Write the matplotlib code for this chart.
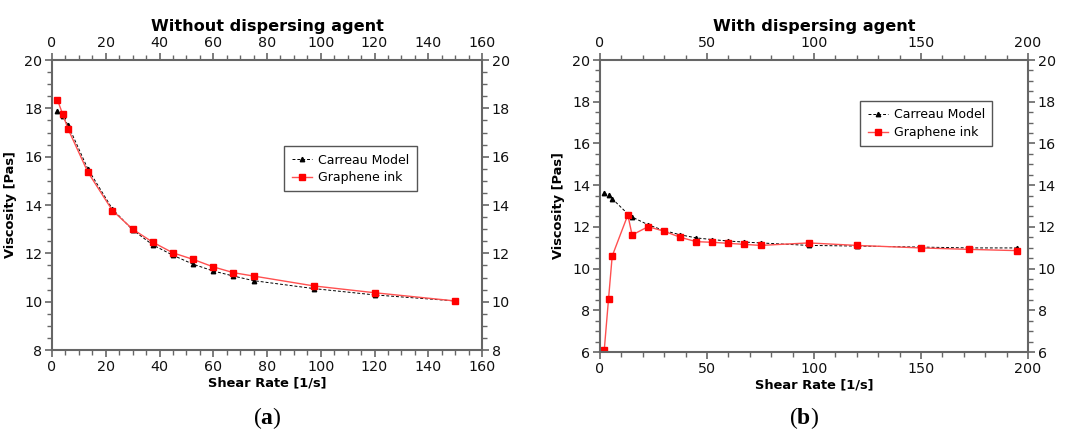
import matplotlib
matplotlib.use("Agg")
import matplotlib.pyplot as plt
from matplotlib.ticker import MultipleLocator

# ---- data ----
x_a = [2, 4, 6, 13.3, 22.5, 30, 37.5, 45, 52.5, 60, 67.5, 75, 97.5, 120, 150]
carreau_a = [17.9, 17.67, 17.3, 15.5, 13.83, 12.97, 12.35, 11.92, 11.55, 11.27, 11.06, 10.87, 10.54, 10.28, 10.03]
ink_a = [18.36, 17.75, 17.14, 15.37, 13.77, 13.0, 12.46, 12.02, 11.75, 11.44, 11.2, 11.06, 10.65, 10.37, 10.03]

x_b = [2, 4, 5.7, 13, 15, 22.5, 30, 37.5, 45, 52.5, 60, 67.5, 75, 97.5, 120, 150, 172.5, 195]
carreau_b = [13.62, 13.51, 13.35, 12.62, 12.47, 12.1, 11.82, 11.62, 11.47, 11.39, 11.32, 11.27, 11.23, 11.11, 11.08, 11.03, 10.99, 10.99]
ink_b = [6.11, 8.56, 10.6, 12.57, 11.61, 12.01, 11.79, 11.5, 11.29, 11.26, 11.21, 11.16, 11.11, 11.23, 11.11, 10.99, 10.92, 10.86]

titles = ["Without dispersing agent", "With dispersing agent"]
panel_labels = ["a", "b"]
xlabel = "Shear Rate [1/s]"
ylabel = "Viscosity [Pas]"
legend_labels = ["Carreau Model", "Graphene ink"]

plt.rcParams['font.family'] = ['DejaVu Sans']
plt.rcParams['mathtext.fontset'] = 'custom'
plt.rcParams['mathtext.rm'] = 'Liberation Serif'
plt.rcParams['mathtext.bf'] = 'Liberation Serif:bold'

fig = plt.figure(figsize=(10.73, 4.34), dpi=100)
ax1 = fig.add_axes([52/1073, 84/434, 430/1073, 290/434])
ax2 = fig.add_axes([600/1073, 82/434, 428/1073, 292/434])

spine_col = "#666666"
red = "#ff0000"
redline = "#ff5050"

def style(ax, xlim, ylim, xmaj, xmin, ymaj, ymin, title):
    ax.set_xlim(*xlim)
    ax.set_ylim(*ylim)
    ax.xaxis.set_major_locator(MultipleLocator(xmaj))
    ax.xaxis.set_minor_locator(MultipleLocator(xmin))
    ax.yaxis.set_major_locator(MultipleLocator(ymaj))
    ax.yaxis.set_minor_locator(MultipleLocator(ymin))
    ax.tick_params(which='both', direction='out', top=True, right=True,
                   labeltop=True, labelright=True, color=spine_col, labelsize=10.3,
                   labelcolor='#111111')
    ax.tick_params(which='major', length=5, width=1.2, pad=2)
    ax.tick_params(which='minor', length=3.5, width=1.0)
    for s in ax.spines.values():
        s.set_color(spine_col)
        s.set_linewidth(1.5)
    ax.set_title(title, fontsize=11.6, fontweight='bold', pad=21)
    ax.set_xlabel(xlabel, fontsize=9.4, fontweight='bold', labelpad=2)
    ax.set_ylabel(ylabel, fontsize=9.4, fontweight='bold', labelpad=5)

def plot(ax, x, c, g):
    ax.plot(x, c, linestyle=(0, (3, 2)), color='black', linewidth=0.7,
            marker='^', markersize=3.2, markerfacecolor='black', label=legend_labels[0])
    ax.plot(x, g, linestyle='-', color=redline, linewidth=1.0,
            marker='s', markersize=4.8, markerfacecolor=red, markeredgecolor=red,
            label=legend_labels[1])

plot(ax1, x_a, carreau_a, ink_a)
plot(ax2, x_b, carreau_b, ink_b)
style(ax1, (0, 160), (8, 20), 20, 5, 2, 0.5, titles[0])
style(ax2, (0, 200), (6, 20), 50, 10, 2, 0.5, titles[1])

for ax, bbox in [(ax1, (284/1073, 1 - 191/434, 133/1073, 45/434)),
                 (ax2, (860/1073, 1 - 146/434, 132/1073, 45/434))]:
    leg = ax.legend(loc='upper left', bbox_to_anchor=bbox, bbox_transform=fig.transFigure,
                    mode='expand', fancybox=False, edgecolor='#555555', fontsize=9.0,
                    handlelength=1.6, handletextpad=0.5, borderpad=0.6, labelspacing=0.35,
                    borderaxespad=0, framealpha=1)
    leg.get_frame().set_linewidth(1.0)

fig.text(267/1073, 1 - 418/434, r"($\mathbf{a}$)", ha='center', va='center',
         fontsize=17, family='Liberation Serif')
fig.text(804/1073, 1 - 418/434, r"($\mathbf{b}$)", ha='center', va='center',
         fontsize=17, family='Liberation Serif')

fig.savefig("out.png", dpi=100, facecolor='white')
